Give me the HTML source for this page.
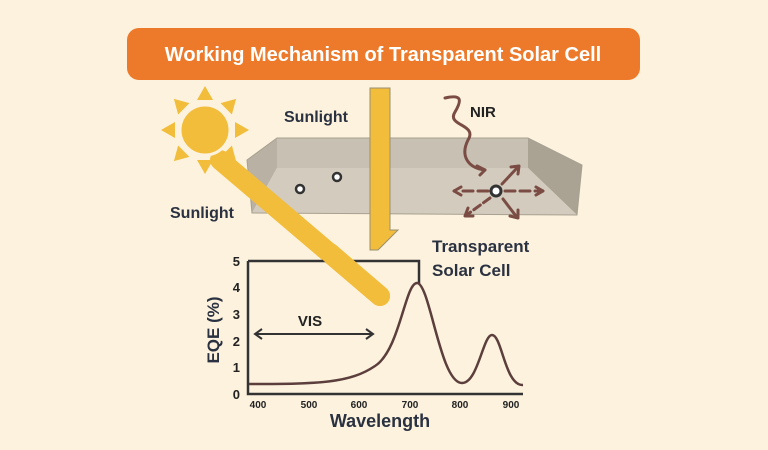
<!DOCTYPE html>
<html><head><meta charset="utf-8"><style>
html,body{margin:0;padding:0;background:#fcf2de;}
svg{display:block;font-family:"Liberation Sans",sans-serif;font-weight:bold;}
</style></head><body>
<svg width="768" height="450" viewBox="0 0 768 450" xmlns="http://www.w3.org/2000/svg">
<rect width="768" height="450" fill="#fcf2de"/>
<rect x="127" y="28" width="513" height="52" rx="12" fill="#ec7a2a"/>
<text x="383" y="61" font-size="20" fill="#fff" text-anchor="middle">Working Mechanism of Transparent Solar Cell</text>
<!-- box -->
<polygon points="277,138 528,138 528,168 277,168" fill="#c8c0b2"/>
<polygon points="247,160 277,138 277,168 252,213" fill="#b9b1a3"/>
<polygon points="528,138 582,165 577,215 528,168" fill="#aaa293"/>
<polygon points="277,168 528,168 577,215 252,213" fill="#d3cbbd"/>
<polygon points="247,160 277,138 528,138 582,165 577,215 252,213" fill="none" stroke="#a8a090" stroke-width="1"/>
<circle cx="300" cy="189" r="4" fill="#fff" stroke="#333" stroke-width="2.5"/>
<circle cx="337" cy="177" r="4" fill="#fff" stroke="#333" stroke-width="2.5"/>
<circle cx="496" cy="191" r="5" fill="#fff" stroke="#333" stroke-width="3"/>
<g stroke="#7a4c44" stroke-width="3" fill="none" stroke-linecap="round">
<path d="M445,98 C462,94 462,100 455,112 C446,126 478,124 468,140 C460,156 468,168 485,170"/>
<path d="M485,170 l-8,-4 M485,170 l-5,5"/>
<path d="M488,191 L458,191" stroke-dasharray="10,5"/><path d="M454,191 l7,-4 M454,191 l7,4"/>
<path d="M505,191 L540,191" stroke-dasharray="10,5"/><path d="M543,191 l-7,-4 M543,191 l-7,4"/>
<path d="M502,184 L517,168"/><path d="M519,166 l-8,1 M519,166 l-1,8"/>
<path d="M490,198 L468,214" stroke-dasharray="8,4"/><path d="M465,216 l3,-8 M465,216 l8,0"/>
<path d="M503,199 L516,216"/><path d="M518,218 l-8,-2 M518,218 l0,-8"/>
</g>
<text x="470" y="117" font-size="15" fill="#222">NIR</text>
<!-- beam -->
<line x1="220" y1="160" x2="380" y2="296" stroke="#f3bd3c" stroke-width="20" stroke-linecap="round"/>
<!-- sun -->
<g fill="#f3bd3c">
<circle cx="205" cy="130" r="25" stroke="#fcf2de" stroke-width="3"/>
<g transform="translate(205,130)">
<polygon points="-8,-30 8,-30 0,-44"/>
<polygon points="-8,-30 8,-30 0,-44" transform="rotate(45)"/>
<polygon points="-8,-30 8,-30 0,-44" transform="rotate(90)"/>
<polygon points="-8,-30 8,-30 0,-44" transform="rotate(135)"/>
<polygon points="-8,-30 8,-30 0,-44" transform="rotate(180)"/>
<polygon points="-8,-30 8,-30 0,-44" transform="rotate(225)"/>
<polygon points="-8,-30 8,-30 0,-44" transform="rotate(270)"/>
<polygon points="-8,-30 8,-30 0,-44" transform="rotate(315)"/>
</g>
</g>
<text x="284" y="122" font-size="16" fill="#2a3140">Sunlight</text>
<text x="170" y="218" font-size="16" fill="#2a3140">Sunlight</text>
<polygon points="370,88 390,88 390,230 398,230 378,250 370,250" fill="#f3bd3c" stroke="#9a9070" stroke-width="1"/>
<!-- plot -->
<g stroke="#333" stroke-width="2.5" fill="none">
<path d="M248,261 L419,261 L419,284"/>
<path d="M248,261 L248,394 L523,394"/>
</g>
<line x1="330" y1="253" x2="380" y2="296" stroke="#f3bd3c" stroke-width="20" stroke-linecap="round"/>
<path d="M249,384 C320,384 350,383 375,366 C400,350 405,283 417,283 C430,283 440,383 462,383 C478,383 483,335 492,335 C502,335 505,386 523,385" fill="none" stroke="#5c3f3c" stroke-width="2.5"/>
<g font-size="13" fill="#222" text-anchor="end">
<text x="240" y="266">5</text><text x="240" y="292">4</text><text x="240" y="319">3</text>
<text x="240" y="346">2</text><text x="240" y="372">1</text><text x="240" y="399">0</text>
</g>
<g font-size="10" fill="#222" text-anchor="middle">
<text x="258" y="408">400</text><text x="309" y="408">500</text><text x="359" y="408">600</text>
<text x="410" y="408">700</text><text x="460" y="408">800</text><text x="511" y="408">900</text>
</g>
<text x="380" y="427" font-size="18" fill="#2a3140" text-anchor="middle">Wavelength</text>
<text transform="translate(219,330) rotate(-90)" font-size="17" fill="#2a3140" text-anchor="middle">EQE (%)</text>
<g stroke="#333" stroke-width="2" fill="none">
<line x1="255" y1="334" x2="373" y2="334"/>
<path d="M262,329 L255,334 L262,339 M366,329 L373,334 L366,339"/>
</g>
<text x="310" y="326" font-size="15" fill="#222" text-anchor="middle">VIS</text>
<text x="432" y="252" font-size="17" fill="#2a3140">Transparent</text>
<text x="432" y="276" font-size="17" fill="#2a3140">Solar Cell</text>
</svg>
</body></html>
